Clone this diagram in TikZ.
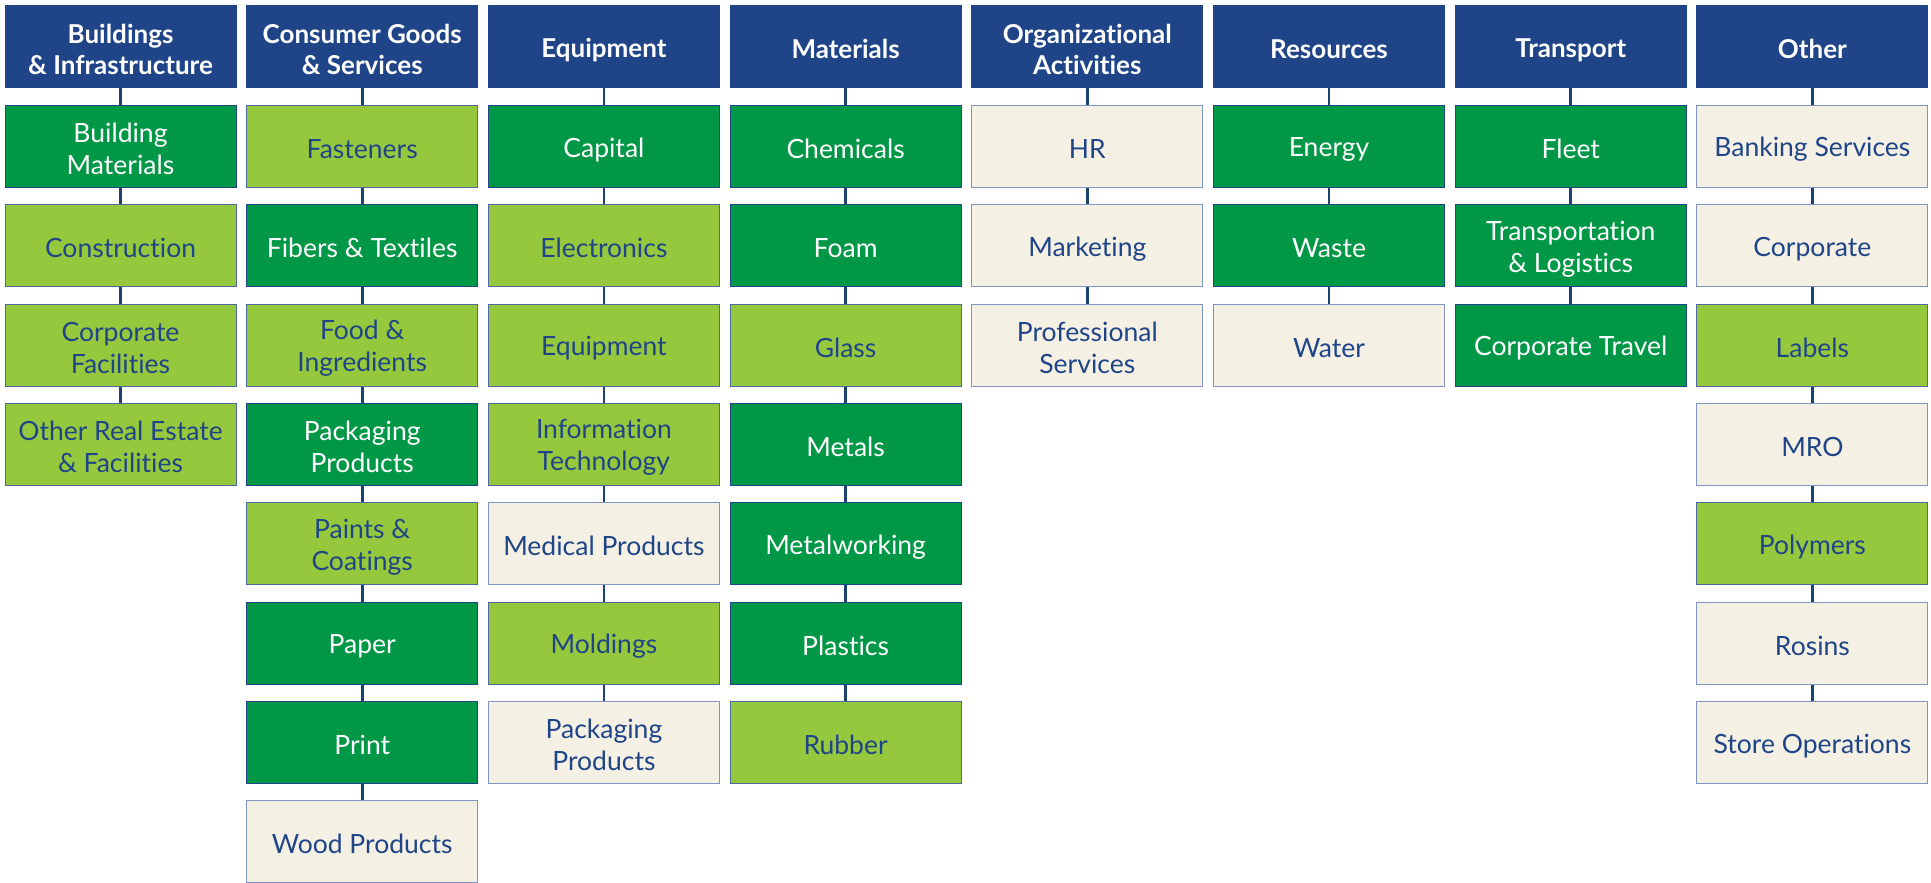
\documentclass[tikz,border=0pt]{standalone}
\usepackage{fontspec}
\setmainfont[Ligatures={NoCommon}]{Lato}
\definecolor{hdr}{HTML}{1F4588}
\definecolor{dg}{HTML}{009846}
\definecolor{lg}{HTML}{95C83D}
\definecolor{cr}{HTML}{F4F0E4}
\definecolor{txt}{HTML}{1F4588}
\definecolor{crb}{HTML}{8096C0}
\definecolor{lnk}{HTML}{1B4272}
\newcommand\mystrut{\rule[-2pt]{0pt}{28pt}}
\tikzset{
  cellbox/.style={rectangle, minimum width=231pt, minimum height=82pt, inner sep=0pt, align=center,
    font=\fontsize{26.5}{32}\selectfont, line width=1pt,
    execute at begin node=\mystrut, execute at end node=\mystrut},
  hdrbox/.style={cellbox, fill=hdr, draw=hdr, text=white, font=\fontsize{26}{31.5}\selectfont\bfseries},
  dgbox/.style={cellbox, fill=dg, draw=hdr, text=white},
  lgbox/.style={cellbox, fill=lg, draw=hdr!80, text=txt},
  crbox/.style={cellbox, fill=cr, draw=crb, text=txt},
  link/.style={draw=lnk, line width=2.6pt}
}
\newcommand\mycell[4]{\node[#1] (n#2-#3) at ({120.5+(#2-1)*241.7},{47+#3*99.35}) {#4};}
\newcommand\mycelltwo[5]{\node[#1] (n#2-#3) at ({120.5+(#2-1)*241.7},{47+#3*99.35}) {\mystrut#4\\#5\mystrut};}
\begin{document}
\begin{tikzpicture}[x=1pt,y=-1pt]
\useasboundingbox[fill=white] (0,0) rectangle (1931,883);
% column 1
\mycelltwo{hdrbox}{1}{0}{Buildings}{\& Infrastructure}
\mycelltwo{dgbox}{1}{1}{Building}{Materials}
\mycell{lgbox}{1}{2}{Construction}
\mycelltwo{lgbox}{1}{3}{Corporate}{Facilities}
\mycelltwo{lgbox}{1}{4}{Other Real Estate}{\& Facilities}
% column 2
\mycelltwo{hdrbox}{2}{0}{Consumer Goods}{\& Services}
\mycell{lgbox}{2}{1}{Fasteners}
\mycell{dgbox}{2}{2}{Fibers \& Textiles}
\mycelltwo{lgbox}{2}{3}{Food \&}{Ingredients}
\mycelltwo{dgbox}{2}{4}{Packaging}{Products}
\mycelltwo{lgbox}{2}{5}{Paints \&}{Coatings}
\mycell{dgbox}{2}{6}{Paper}
\mycell{dgbox}{2}{7}{Print}
\mycell{crbox}{2}{8}{Wood Products}
% column 3
\mycell{hdrbox}{3}{0}{Equipment}
\mycell{dgbox}{3}{1}{Capital}
\mycell{lgbox}{3}{2}{Electronics}
\mycell{lgbox}{3}{3}{Equipment}
\mycelltwo{lgbox}{3}{4}{Information}{Technology}
\mycell{crbox}{3}{5}{Medical Products}
\mycell{lgbox}{3}{6}{Moldings}
\mycelltwo{crbox}{3}{7}{Packaging}{Products}
% column 4
\mycell{hdrbox}{4}{0}{Materials}
\mycell{dgbox}{4}{1}{Chemicals}
\mycell{dgbox}{4}{2}{Foam}
\mycell{lgbox}{4}{3}{Glass}
\mycell{dgbox}{4}{4}{Metals}
\mycell{dgbox}{4}{5}{Metalworking}
\mycell{dgbox}{4}{6}{Plastics}
\mycell{lgbox}{4}{7}{Rubber}
% column 5
\mycelltwo{hdrbox}{5}{0}{Organizational}{Activities}
\mycell{crbox}{5}{1}{HR}
\mycell{crbox}{5}{2}{Marketing}
\mycelltwo{crbox}{5}{3}{Professional}{Services}
% column 6
\mycell{hdrbox}{6}{0}{Resources}
\mycell{dgbox}{6}{1}{Energy}
\mycell{dgbox}{6}{2}{Waste}
\mycell{crbox}{6}{3}{Water}
% column 7
\mycell{hdrbox}{7}{0}{Transport}
\mycell{dgbox}{7}{1}{Fleet}
\mycelltwo{dgbox}{7}{2}{Transportation}{\& Logistics}
\mycell{dgbox}{7}{3}{Corporate Travel}
% column 8
\mycell{hdrbox}{8}{0}{Other}
\mycell{crbox}{8}{1}{Banking Services}
\mycell{crbox}{8}{2}{Corporate}
\mycell{lgbox}{8}{3}{Labels}
\mycell{crbox}{8}{4}{MRO}
\mycell{lgbox}{8}{5}{Polymers}
\mycell{crbox}{8}{6}{Rosins}
\mycell{crbox}{8}{7}{Store Operations}
% connectors
\foreach \c/\n in {1/4,2/8,3/7,4/7,5/3,6/3,7/3,8/7}{
  \foreach \r in {1,...,\n}{
    \pgfmathtruncatemacro\p{\r-1}
    \draw[link] (n\c-\p.south) -- (n\c-\r.north);
  }
}
\end{tikzpicture}
\end{document}
